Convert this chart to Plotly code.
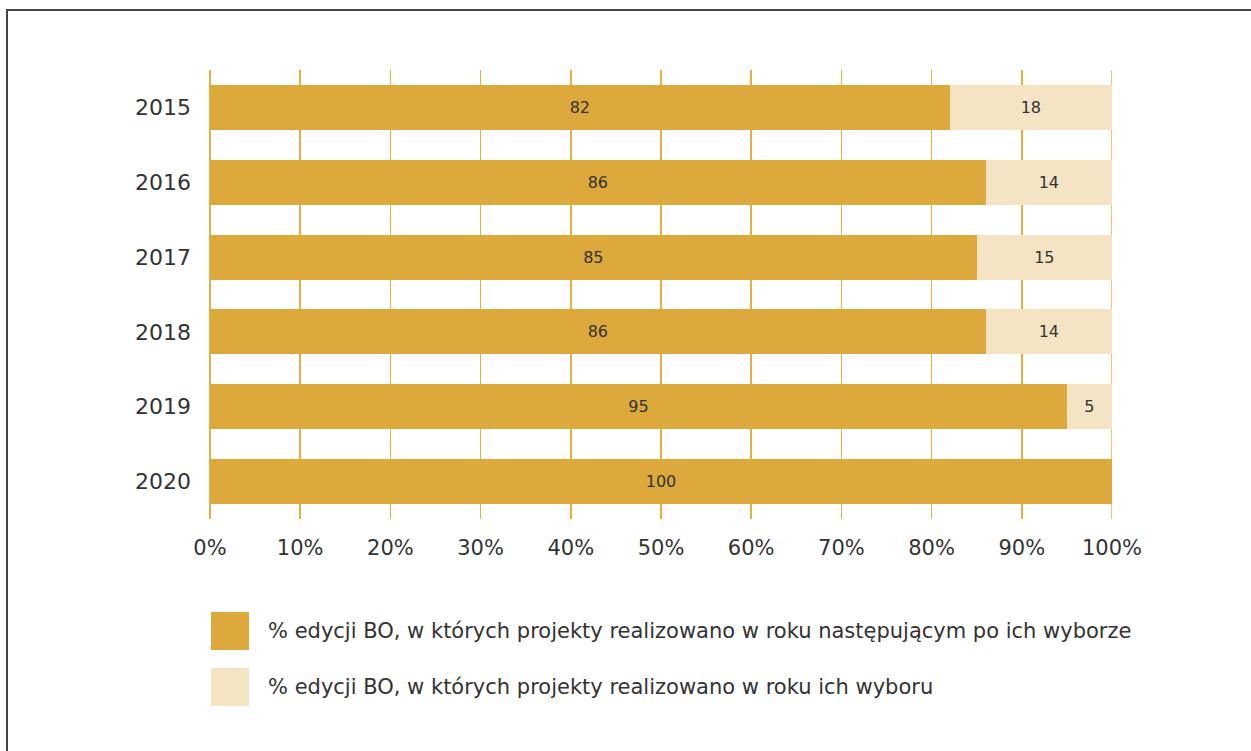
import plotly.graph_objects as go

years = ["2015", "2016", "2017", "2018", "2019", "2020"]
next_year = [82, 86, 85, 86, 95, 100]
same_year = [18, 14, 15, 14, 5, 0]
x_ticks = [0, 10, 20, 30, 40, 50, 60, 70, 80, 90, 100]
x_tick_labels = [f"{v}%" for v in x_ticks]
legend_labels = [
    "% edycji BO, w których projekty realizowano w roku następującym po ich wyborze",
    "% edycji BO, w których projekty realizowano w roku ich wyboru",
]

DARK = "#DDA93C"
LIGHT = "#F5E4C4"
GRID = "#E8AE3E"
TEXT = "#333333"
FONT = "DejaVu Sans"

W, H = 1251, 751
L, R, T, B = 210, 139, 70, 232
pw, ph = W - L - R, H - T - B

fig = go.Figure()
fig.add_trace(go.Bar(
    y=years, x=next_year, orientation="h", marker=dict(color=DARK, line=dict(width=0)),
    text=[str(v) for v in next_year], textposition="inside", insidetextanchor="middle",
    textfont=dict(family=FONT, size=16, color=TEXT), name=legend_labels[0],
    showlegend=False, hoverinfo="skip",
))
fig.add_trace(go.Bar(
    y=years, x=same_year, orientation="h", marker=dict(color=LIGHT, line=dict(width=0)),
    text=[str(v) if v else "" for v in same_year], textposition="inside", insidetextanchor="middle",
    textfont=dict(family=FONT, size=16, color=TEXT), name=legend_labels[1],
    showlegend=False, hoverinfo="skip",
))

def px_x(x):
    return (x - L) / pw

def px_y(y):
    return 1 - (y - T) / ph

shapes = []
# gridline at the 100% end (plotly omits gridlines on the range edge)
shapes.append(dict(type="line", xref="x", yref="paper", x0=x_ticks[-1], x1=x_ticks[-1],
                   y0=0, y1=1, line=dict(color=GRID, width=1.5), layer="below"))
# frame
shapes.append(dict(type="rect", xref="paper", yref="paper",
                   x0=px_x(7), x1=px_x(1300), y0=px_y(800), y1=px_y(10),
                   line=dict(color="#444444", width=2), fillcolor="rgba(0,0,0,0)", layer="above"))
annotations = []
colors = [DARK, LIGHT]
for i, lab in enumerate(legend_labels):
    yc = 631 + i * 56
    shapes.append(dict(type="rect", xref="paper", yref="paper",
                       x0=px_x(211), x1=px_x(249), y0=px_y(yc + 19), y1=px_y(yc - 19),
                       line=dict(width=0), fillcolor=colors[i]))
    annotations.append(dict(xref="paper", yref="paper", x=px_x(266), y=px_y(yc),
                            xanchor="left", yanchor="middle", showarrow=False, text=lab,
                            font=dict(family=FONT, size=21, color=TEXT)))

fig.update_layout(
    width=W, height=H, barmode="stack", bargap=0.4,
    paper_bgcolor="white", plot_bgcolor="white",
    margin=dict(l=L, r=R, t=T, b=B, pad=0),
    shapes=shapes, annotations=annotations,
    font=dict(family=FONT, color=TEXT),
    xaxis=dict(range=[0, 100], tickvals=x_ticks, ticktext=x_tick_labels,
               showgrid=True, gridcolor=GRID, gridwidth=1.5,
               zeroline=True, zerolinecolor=GRID, zerolinewidth=1.5,
               showline=False, ticks="", tickfont=dict(family=FONT, size=21, color=TEXT),
               ticklabelstandoff=14, fixedrange=True),
    yaxis=dict(autorange="reversed", showgrid=False, zeroline=False, showline=False,
               ticks="", tickfont=dict(family=FONT, size=22, color=TEXT),
               ticklabelstandoff=18, fixedrange=True),
)
fig.write_html("out.html", config={"displayModeBar": False, "staticPlot": True},
               post_script="document.body.style.margin='0px';document.body.style.overflow='hidden';")
